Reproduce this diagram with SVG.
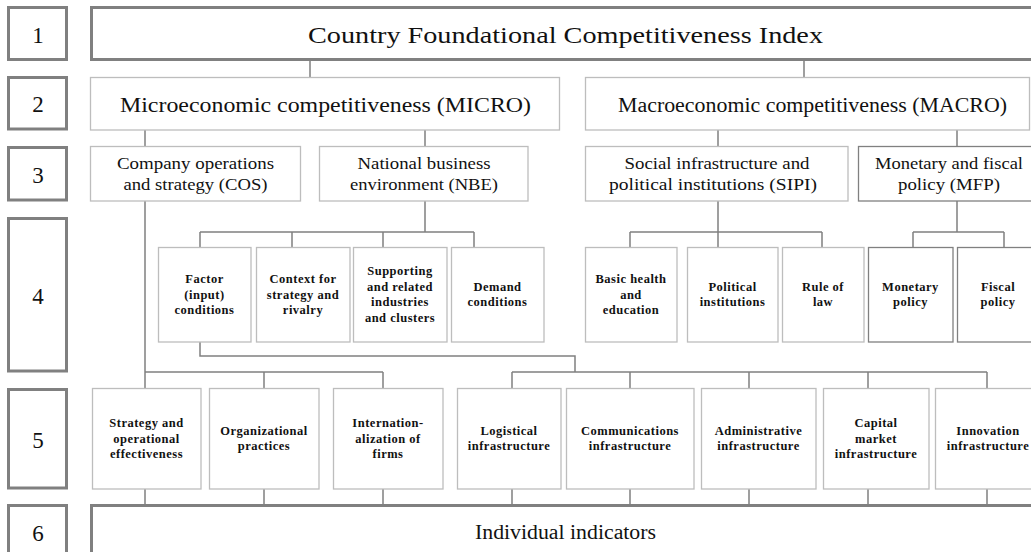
<svg xmlns="http://www.w3.org/2000/svg" width="1031" height="552" viewBox="0 0 1031 552" font-family="Liberation Serif, Times New Roman, serif">
<defs>
<style>
.num{fill:#fff;stroke:#808080;stroke-width:3}
.big{fill:#fff;stroke:#808080;stroke-width:3}
.box{fill:#fff;stroke:#bdbdbd;stroke-width:1.3}
.dbox{fill:#fff;stroke:#808080;stroke-width:1.3}
.con{fill:none;stroke:#808080;stroke-width:1.5}
.t{font-family:'Liberation Serif','Times New Roman',serif;fill:#111;text-anchor:middle}
.n{font-size:23px}
.l1{font-size:24px}
.l2{font-size:20px}
.l3{font-size:17px}
.s{font-family:'Liberation Serif','Times New Roman',serif;font-weight:bold;font-size:12.5px;letter-spacing:0.5px;fill:#111;text-anchor:middle}
</style>
</defs>
<rect width="1031" height="552" fill="#fff"/>

<g id="connectors">
<path class="con" d="M310 60V77M804 60V77"/>
<path class="con" d="M145 130V388M425 130V147M425 201V232M200 232H474M200 232V247M292 232V247M383 232V247M474 232V247"/>
<path class="con" d="M145 372H383M264 372V388M383 372V388"/>
<path class="con" d="M200 342V356H575V372M512 372H987M512 372V388M630 372V388M749 372V388M868 372V388M987 372V388"/>
<path class="con" d="M718 130V147M718 201V232M630 232H822M630 232V247M718 232V247M822 232V247"/>
<path class="con" d="M957 130V147M957 201V232M913 232H1004M913 232V247M1004 232V247"/>
<path class="con" d="M145 489V504M264 489V504M383 489V504M512 489V504M630 489V504M749 489V504M868 489V504M987 489V504"/>
</g>

<g id="lvl1"><rect class="num" x="8.5" y="7.5" width="58" height="52"/><text class="t n" x="38" y="43">1</text></g>
<g id="lvl2"><rect class="num" x="8.5" y="77.5" width="58" height="51.5"/><text class="t n" x="38" y="112">2</text></g>
<g id="lvl3"><rect class="num" x="8.5" y="147.5" width="58" height="52.5"/><text class="t n" x="38" y="183">3</text></g>
<g id="lvl4"><rect class="num" x="8.5" y="218.5" width="58" height="152.5"/><text class="t n" x="38" y="304">4</text></g>
<g id="lvl5"><rect class="num" x="8.5" y="389.5" width="58" height="98.5"/><text class="t n" x="38" y="448">5</text></g>
<g id="lvl6"><rect class="num" x="8.5" y="505.5" width="58" height="60"/><text class="t n" x="38" y="541">6</text></g>

<g id="cfci"><rect class="big" x="91.5" y="7.5" width="960" height="52"/><text class="t l1" x="565.5" y="43" textLength="515" lengthAdjust="spacingAndGlyphs">Country Foundational Competitiveness Index</text></g>

<g id="micro"><rect class="box" x="90.5" y="77.5" width="469" height="52.5"/><text class="t l2" x="325.5" y="112" textLength="411" lengthAdjust="spacingAndGlyphs">Microeconomic competitiveness (MICRO)</text></g>
<g id="macro"><rect class="box" x="585.5" y="77.5" width="444" height="52.5"/><text class="t l2" x="812.5" y="112" textLength="389" lengthAdjust="spacingAndGlyphs">Macroeconomic competitiveness (MACRO)</text></g>

<g id="cos"><rect class="box" x="90.5" y="146.5" width="210" height="54.5"/><text class="t l3" x="195.5" y="169" textLength="157" lengthAdjust="spacingAndGlyphs">Company operations</text><text class="t l3" x="195.5" y="190" textLength="144" lengthAdjust="spacingAndGlyphs">and strategy (COS)</text></g>
<g id="nbe"><rect class="box" x="319.5" y="146.5" width="208.5" height="54.5"/><text class="t l3" x="424" y="169" textLength="133" lengthAdjust="spacingAndGlyphs">National business</text><text class="t l3" x="424" y="190" textLength="148" lengthAdjust="spacingAndGlyphs">environment (NBE)</text></g>
<g id="sipi"><rect class="box" x="585.5" y="146.5" width="262.5" height="54.5"/><text class="t l3" x="717" y="169" textLength="185" lengthAdjust="spacingAndGlyphs">Social infrastructure and</text><text class="t l3" x="713" y="190" textLength="208" lengthAdjust="spacingAndGlyphs">political institutions (SIPI)</text></g>
<g id="mfp"><rect class="dbox" x="858.5" y="146.5" width="190" height="54.5"/><text class="t l3" x="949" y="169" textLength="148" lengthAdjust="spacingAndGlyphs">Monetary and fiscal</text><text class="t l3" x="949" y="190" textLength="102" lengthAdjust="spacingAndGlyphs">policy (MFP)</text></g>

<g id="factor"><rect class="box" x="158.5" y="247.5" width="92.5" height="94.5"/><text class="s" x="204.5" y="283">Factor</text><text class="s" x="204.5" y="298.5">(input)</text><text class="s" x="204.5" y="314">conditions</text></g>
<g id="context"><rect class="box" x="256.5" y="247.5" width="93.5" height="94.5"/><text class="s" x="303" y="283">Context for</text><text class="s" x="303" y="298.5">strategy and</text><text class="s" x="303" y="314">rivalry</text></g>
<g id="supporting"><rect class="box" x="353.5" y="247.5" width="93.5" height="94.5"/><text class="s" x="400" y="275.25">Supporting</text><text class="s" x="400" y="290.75">and related</text><text class="s" x="400" y="306.25">industries</text><text class="s" x="400" y="321.75">and clusters</text></g>
<g id="demand"><rect class="box" x="451.5" y="247.5" width="92.5" height="94.5"/><text class="s" x="497.5" y="290.75">Demand</text><text class="s" x="497.5" y="306.25">conditions</text></g>
<g id="health"><rect class="box" x="585.5" y="247.5" width="91.5" height="94.5"/><text class="s" x="631" y="283">Basic health</text><text class="s" x="631" y="298.5">and</text><text class="s" x="631" y="314">education</text></g>
<g id="political"><rect class="box" x="687.5" y="247.5" width="90.5" height="94.5"/><text class="s" x="732.5" y="290.75">Political</text><text class="s" x="732.5" y="306.25">institutions</text></g>
<g id="law"><rect class="box" x="782.5" y="247.5" width="81.5" height="94.5"/><text class="s" x="823" y="290.75">Rule of</text><text class="s" x="823" y="306.25">law</text></g>
<g id="monetary"><rect class="dbox" x="868.5" y="247.5" width="84.5" height="94.5"/><text class="s" x="910.5" y="290.75">Monetary</text><text class="s" x="910.5" y="306.25">policy</text></g>
<g id="fiscal"><rect class="dbox" x="957.5" y="247.5" width="90" height="94.5"/><text class="s" x="998" y="290.75">Fiscal</text><text class="s" x="998" y="306.25">policy</text></g>

<g id="strategy"><rect class="box" x="92.5" y="388.5" width="108.5" height="100.5"/><text class="s" x="146.5" y="427">Strategy and</text><text class="s" x="146.5" y="442.5">operational</text><text class="s" x="146.5" y="458">effectiveness</text></g>
<g id="org"><rect class="box" x="209.5" y="388.5" width="109.5" height="100.5"/><text class="s" x="264" y="434.75">Organizational</text><text class="s" x="264" y="450.25">practices</text></g>
<g id="intl"><rect class="box" x="333.5" y="388.5" width="109.5" height="100.5"/><text class="s" x="388" y="427">Internation-</text><text class="s" x="388" y="442.5">alization of</text><text class="s" x="388" y="458">firms</text></g>
<g id="logistical"><rect class="box" x="457.5" y="388.5" width="103.5" height="100.5"/><text class="s" x="509" y="434.75">Logistical</text><text class="s" x="509" y="450.25">infrastructure</text></g>
<g id="comm"><rect class="box" x="566.5" y="388.5" width="127.5" height="100.5"/><text class="s" x="630" y="434.75">Communications</text><text class="s" x="630" y="450.25">infrastructure</text></g>
<g id="admin"><rect class="box" x="701.5" y="388.5" width="114.5" height="100.5"/><text class="s" x="758.5" y="434.75">Administrative</text><text class="s" x="758.5" y="450.25">infrastructure</text></g>
<g id="capital"><rect class="box" x="823.5" y="388.5" width="105.5" height="100.5"/><text class="s" x="876" y="427">Capital</text><text class="s" x="876" y="442.5">market</text><text class="s" x="876" y="458">infrastructure</text></g>
<g id="innovation"><rect class="box" x="935.5" y="388.5" width="110" height="100.5"/><text class="s" x="988" y="434.75">Innovation</text><text class="s" x="988" y="450.25">infrastructure</text></g>

<g id="indicators"><rect class="big" x="91.5" y="505.5" width="960" height="60"/><text class="t l2" x="565.5" y="539" textLength="181" lengthAdjust="spacingAndGlyphs">Individual indicators</text></g>
</svg>
